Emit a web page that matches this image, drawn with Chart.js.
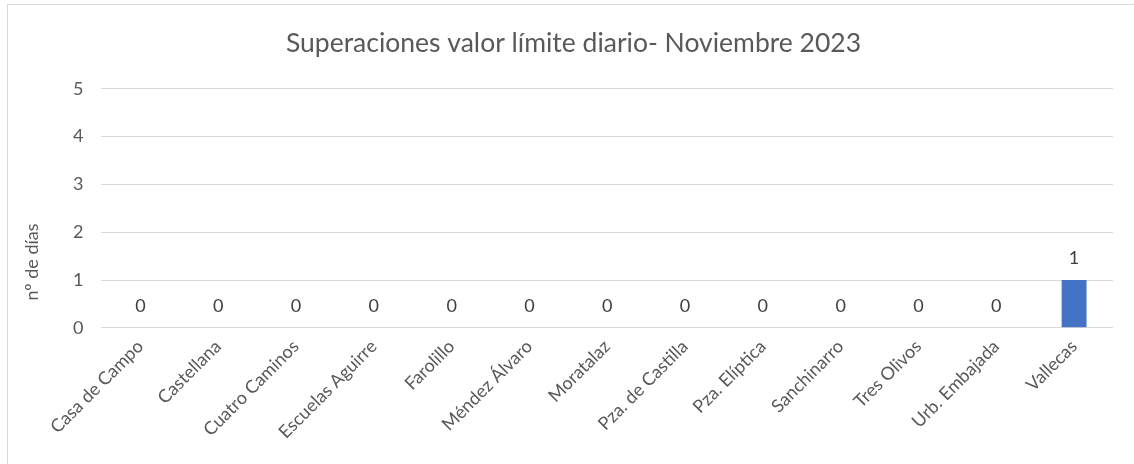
<!DOCTYPE html>
<html>
<head>
<meta charset="utf-8">
<script src="https://cdn.jsdelivr.net/npm/chart.js@4/dist/chart.umd.min.js"></script>
<style>
  html, body { margin: 0; padding: 0; background: #fff; }
  #wrap { position: relative; width: 1134px; height: 464px; overflow: hidden; }
  #frame { position: absolute; left: 7px; top: 4px; width: 1200px; height: 500px;
           border-left: 1px solid #d9d9d9; border-top: 1px solid #d9d9d9; }
  canvas { position: absolute; left: 0; top: 0; }
</style>
</head>
<body>
<div id="wrap">
  <div id="frame"></div>
  <canvas id="chart" width="1134" height="464"></canvas>
</div>
<script>
// datos
const estaciones = ["Casa de Campo", "Castellana", "Cuatro Caminos", "Escuelas Aguirre", "Farolillo",
  "Méndez Álvaro", "Moratalaz", "Pza. de Castilla", "Pza. Elíptica", "Sanchinarro",
  "Tres Olivos", "Urb. Embajada", "Vallecas"];
const superaciones = [0, 0, 0, 0, 0, 0, 0, 0, 0, 0, 0, 0, 1];
const yTicks = [0, 1, 2, 3, 4, 5];

const tituloY = "nº de días";

// etiquetas de valor encima de cada barra
const valueLabels = {
  id: 'valueLabels',
  afterDatasetsDraw(chart) {
    const ctx = chart.ctx;
    const meta = chart.getDatasetMeta(0);
    ctx.save();
    ctx.font = '18px Lato';
    ctx.fillStyle = '#404040';
    ctx.textAlign = 'center';
    ctx.textBaseline = 'middle';
    meta.data.forEach((bar, i) => {
      ctx.fillText(String(superaciones[i]), bar.x, bar.y - 22);
    });
    ctx.restore();
  }
};

// titulo del eje y, centrado como en Excel
const yTitle = {
  id: 'yTitle',
  afterDraw(chart) {
    const ctx = chart.ctx;
    ctx.save();
    ctx.translate(32, 262);
    ctx.rotate(-Math.PI / 2);
    ctx.font = '18px Lato';
    ctx.fillStyle = '#595959';
    ctx.textAlign = 'center';
    ctx.textBaseline = 'middle';
    ctx.fillText(tituloY, 0, 0);
    ctx.restore();
  }
};

new Chart(document.getElementById('chart'), {
  type: 'bar',
  data: {
    labels: estaciones,
    datasets: [{
      label: 'Superaciones',
      data: superaciones,
      backgroundColor: '#4472c4',
      barPercentage: 0.32,
      categoryPercentage: 1
    }]
  },
  options: {
    responsive: false,
    animation: false,
    layout: {
      padding: { left: 34, right: 21, top: 0, bottom: 13 }
    },
    scales: {
      x: {
        grid: { display: false, drawTicks: false },
        border: { display: false },
        ticks: {
          color: '#595959',
          font: { family: 'Lato', size: 18 },
          minRotation: 45,
          maxRotation: 45,
          padding: 8
        }
      },
      y: {
        min: 0,
        max: 5,
        afterBuildTicks(axis) {
          axis.ticks = yTicks.map(v => ({ value: v }));
        },
        afterFit(axis) {
          axis.width += 21;
        },
        grid: { color: '#d9d9d9', lineWidth: 1, drawTicks: false },
        border: { display: false },
        ticks: {
          color: '#595959',
          font: { family: 'Lato', size: 18 },
          padding: 18
        }
      }
    },
    plugins: {
      legend: { display: false },
      tooltip: { enabled: false },
      title: {
        display: true,
        text: 'Superaciones valor límite diario- Noviembre 2023',
        color: '#595959',
        font: { family: 'Lato', size: 26.5, weight: 'normal' },
        padding: { top: 28, bottom: 29 }
      }
    }
  },
  plugins: [valueLabels, yTitle]
});
</script>
</body>
</html>
